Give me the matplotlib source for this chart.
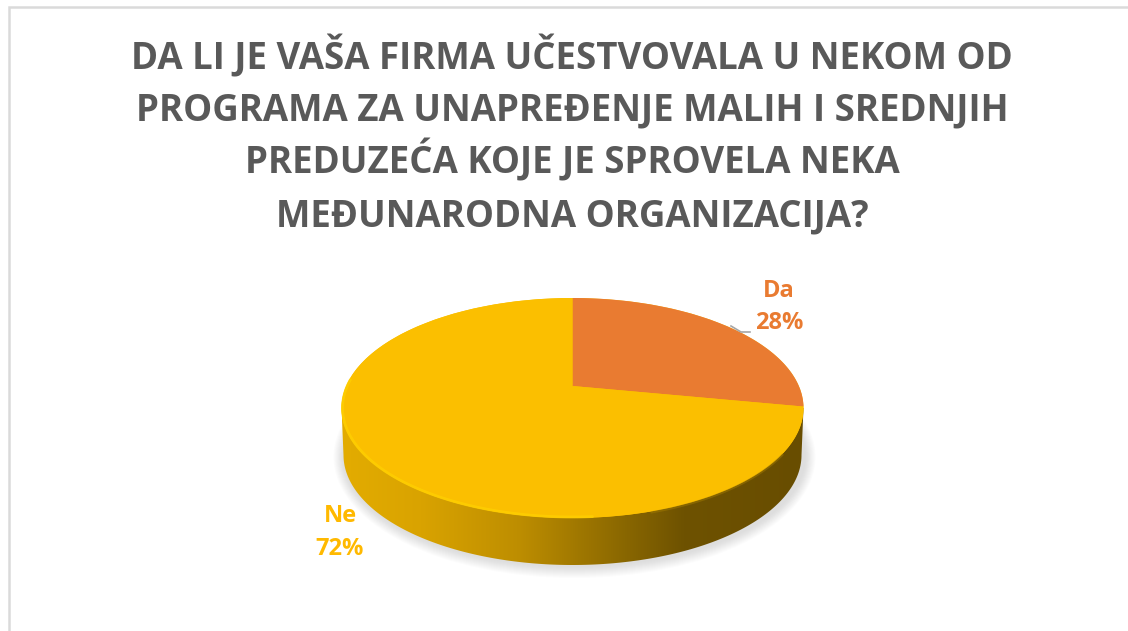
import numpy as np
import matplotlib
matplotlib.use("Agg")
import matplotlib.pyplot as plt
from matplotlib.patches import Polygon, Ellipse
from matplotlib.colors import LinearSegmentedColormap

title_lines = ["DA LI JE VAŠA FIRMA UČESTVOVALA U NEKOM OD",
               "PROGRAMA ZA UNAPREĐENJE MALIH I SREDNJIH",
               "PREDUZEĆA KOJE JE SPROVELA NEKA",
               "MEĐUNARODNA ORGANIZACIJA?"]
categories = ["Da", "Ne"]
values = [28, 72]
colors = ["#E97B31", "#FBBF00"]
text_colors = ["#E97B31", "#FFB900"]

W, H = 1128, 631
fig = plt.figure(figsize=(W/100, H/100), dpi=100, facecolor="white")
ax = fig.add_axes([0, 0, 1, 1])
ax.set_xlim(0, W); ax.set_ylim(H, 0); ax.axis("off")
plt.rcParams["font.family"] = ["Open Sans", "DejaVu Sans"]

ax.plot([8.5, 8.5, W], [H, 6.5, 6.5], color="#DADADA", lw=1.8, solid_joinstyle="miter")

for line, y in zip(title_lines, [69, 120, 173, 226]):
    ax.text(572, y, line, ha="center", va="baseline", fontsize=26.4, fontweight="bold", color="#595959")

cx, cy, rx, ry, depth = 572.5, 408, 231, 110, 47
a = 0.2

def project(theta):
    u, v = np.sin(theta), np.cos(theta)
    X = np.sqrt(1 - a**2) * u / (1 + a * v)
    Y = (v + a) / (1 + a * v)
    return cx + rx * X, cy - ry * Y

# soft shadow
for g in np.linspace(1, 0, 12):
    ax.add_patch(Ellipse((cx + 2, cy + depth + 2), 2*rx + 20*g, 2*ry + 22*g,
                         fc="#909090", ec="none", alpha=0.025, zorder=1))

# side wall
t = np.linspace(0, np.pi, 200)
lower = np.c_[cx + (rx-2)*np.cos(t), cy + depth + ry*np.sin(t)]
side_poly = np.r_[[[cx + rx, cy]], lower, [[cx - rx, cy]]]
cmap = LinearSegmentedColormap.from_list("side", [(0, "#E3AC00"), (0.17, "#D9A300"), (0.38, "#BE8E00"),
                                                  (0.6, "#8C6900"), (0.74, "#6E5200"), (1, "#684D00")])
im = ax.imshow(np.linspace(0, 1, 256)[None, :], extent=[cx-rx, cx+rx, cy+depth+ry, cy], cmap=cmap,
               aspect="auto", zorder=2)
clip = Polygon(side_poly, closed=True, transform=ax.transData, fc="none", ec="none")
ax.add_patch(clip)
im.set_clip_path(clip)
ax.set_xlim(0, W); ax.set_ylim(H, 0)

# top face
ax.add_patch(Ellipse((cx, cy), 2*rx, 2*ry, fc=colors[1], ec="none", zorder=3))

# slices from values, clockwise from top
fractions = np.cumsum([0] + values) / sum(values)
apex_y = cy - ry * a
for i, c in enumerate(colors):
    th = np.linspace(fractions[i], fractions[i+1], 200) * 2*np.pi
    x, y = project(th)
    ax.add_patch(Polygon(np.r_[[[cx, apex_y]], np.c_[x, y]], closed=True, fc=c, ec="none", zorder=4))

# bevel: bright rim on the lower left, soft dark rim on the lower right
s = np.linspace(np.deg2rad(85), np.deg2rad(195), 120)
ax.plot(cx + (rx-1)*np.cos(s), cy + (ry-1)*np.sin(s), color="#FFD000", lw=2.0, alpha=0.75, zorder=5, solid_capstyle="round")
s = np.linspace(np.deg2rad(25), np.deg2rad(70), 80)
ax.plot(cx + (rx+0.5)*np.cos(s), cy + (ry+1)*np.sin(s), color="#A67E00", lw=1.6, alpha=0.45, zorder=5)

# leader line and labels
ax.plot([731, 741, 750], [326, 332, 332], color="#A6A6A6", lw=1.2, zorder=5)
label_pos = [(779, 291, 323), (340, 516, 549)]
for name, v, tc, (lx, y1, y2) in zip(categories, values, text_colors, label_pos):
    ax.text(lx, y1, name, ha="center", va="center", fontsize=17, fontweight="bold", color=tc, zorder=6)
    ax.text(lx, y2, f"{v}%", ha="center", va="center", fontsize=17, fontweight="bold", color=tc, zorder=6)

fig.savefig("out.png", dpi=100, facecolor="white")
